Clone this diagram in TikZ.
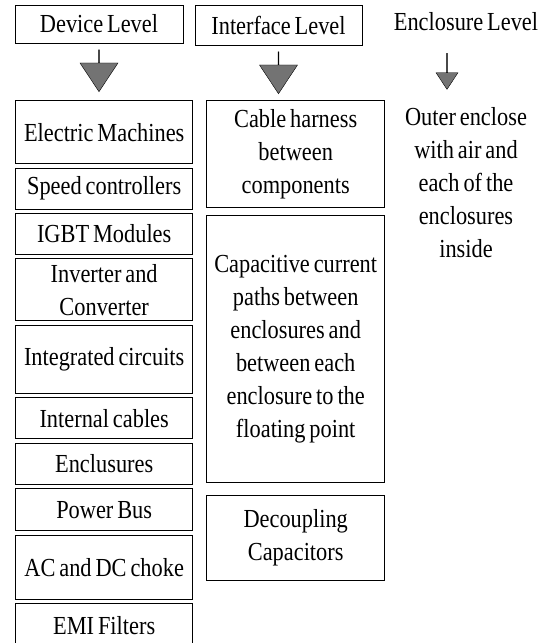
\documentclass[tikz,border=0pt]{standalone}
\usepackage{fontspec}
\setmainfont{Liberation Serif}[FakeStretch=0.86, WordSpace=0.7]
\usetikzlibrary{matrix,positioning,shapes.arrows}

\begin{document}
\begin{tikzpicture}[x=1pt, y=-1pt,
	font=\fontsize{26}{33}\selectfont,
	headbox/.style={draw, line width=1pt, minimum width=168pt, minimum height=38pt, inner sep=0pt},
	downarrow/.style={draw, fill=black!55, single arrow, shape border rotate=270,
		minimum width=38pt, minimum height=42pt, single arrow head extend=10pt,
		single arrow tip angle=67, inner sep=0pt}]
	\useasboundingbox (0,0) rectangle (556,643);
	
	% headers
	\node[headbox] (devhead) at (99,24) {Device Level};
	\node[headbox, minimum width=167pt, minimum height=40pt] (inthead) at (278.5,25) {Interface Level};
	\node (enchead) at (466,22) {Enclosure Level};
	
	\node[downarrow, below=6pt of devhead] (devarrow) {};
	\node[downarrow, below=6pt of inthead] (intarrow) {};
	\node[downarrow, minimum width=22pt, minimum height=36pt, single arrow head extend=5pt] (encarrow) at (447,71) {};
	
	\matrix(device)[matrix of nodes, anchor=north west, inner sep=0pt, row sep=3.5pt,
	nodes={draw, line width=1pt, text width=173pt, inner xsep=2pt, inner ysep=0pt, align=flush center},
	row 1/.style={nodes={minimum height=63pt}},
	row 2/.style={nodes={minimum height=41pt}},
	row 3/.style={nodes={minimum height=40.5pt}},
	row 4/.style={nodes={minimum height=62pt}},
	row 5/.style={nodes={minimum height=68pt}},
	row 6/.style={nodes={minimum height=41pt}},
	row 7/.style={nodes={minimum height=41pt}},
	row 8/.style={nodes={minimum height=42pt}},
	row 9/.style={nodes={minimum height=64pt}},
	row 10/.style={nodes={minimum height=43pt}}] at (15,100)
	{
		Electric Machines \\
		Speed controllers \\
		IGBT Modules \\
		{Inverter and\\Converter} \\
		Integrated circuits \\
		Internal cables \\
		Enclusures \\
		Power Bus \\
		AC and DC choke \\
		EMI Filters \\
	};
	
	\matrix(iface)[matrix of nodes, anchor=north west, inner sep=0pt, row sep=7pt,
	nodes={draw, line width=1pt, text width=174pt, inner xsep=2pt, inner ysep=0pt, align=flush center},
	row 1/.style={nodes={minimum height=107pt}},
	row 2/.style={nodes={minimum height=267pt}},
	row 3/.style={nodes={minimum height=85pt}}] at (206,100)
	{
		{Cable harness\\between\\components} \\
		{Capacitive current\\paths between\\enclosures and\\between each\\enclosure to the\\floating point} \\[5pt]
		{Decoupling\\Capacitors} \\
	};
	
	\node[align=center] (encbody) at (466,183) {Outer enclose\\with air and\\each of the\\enclosures\\inside};
\end{tikzpicture}
\end{document}
